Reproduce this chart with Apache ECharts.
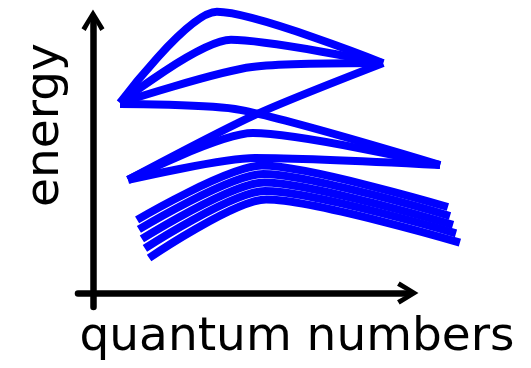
<!DOCTYPE html>
<html>
<head>
<meta charset="utf-8">
<script src="https://cdn.jsdelivr.net/npm/echarts@6/dist/echarts.min.js"></script>
<style>
html,body{margin:0;padding:0;background:#fff;}
#chart{width:531px;height:368px;}
</style>
</head>
<body>
<div id="chart"></div>
<script>
// Energy levels (x = quantum number position, y = energy)
const levelA1 = [[0.90, 6.79], [4.13, 10.04], [9.67, 8.21]];
const levelA2 = [[0.90, 6.79], [4.60, 9.04], [9.67, 8.21]];
const levelA3 = [[0.90, 6.79], [5.30, 8.07], [9.67, 8.21]];
const levelA4 = [[0.90, 6.75], [4.90, 6.54], [11.57, 4.57]];
const levelB1 = [[1.17, 4.04], [5.40, 6.36], [9.67, 8.21]];
const levelB2 = [[1.17, 4.04], [5.33, 5.71], [11.57, 4.57]];
const levelB3 = [[1.17, 4.04], [5.40, 4.82], [11.57, 4.57]];
const levelC1 = [[1.47, 2.61], [5.63, 4.55], [11.83, 3.07]];
const levelC2 = [[1.53, 2.27], [5.67, 4.25], [11.90, 2.75]];
const levelC3 = [[1.63, 1.93], [5.70, 3.95], [12.00, 2.43]];
const levelC4 = [[1.73, 1.59], [5.73, 3.64], [12.10, 2.13]];
const levelC5 = [[1.87, 1.25], [5.77, 3.34], [12.23, 1.80]];
const levels = [levelA1, levelA2, levelA3, levelA4, levelB1, levelB2, levelB3,
                levelC1, levelC2, levelC3, levelC4, levelC5];
const xTitle = 'quantum numbers';
const yTitle = 'energy';

const arrowPath = 'path://M11,0 L22,18 L18,20.5 L11,8 L4,20.5 L0,18 Z M9,3 L13,3 L13,22 L9,22 Z';
const font = '47px "DejaVu Sans"';
const hiddenAxis = {
  axisLine: {show: false}, axisTick: {show: false}, axisLabel: {show: false}, splitLine: {show: false}
};

const chart = echarts.init(document.getElementById('chart'), null, {renderer: 'canvas'});
chart.setOption({
  animation: false,
  backgroundColor: '#ffffff',
  grid: [
    // axes grid (arrows)
    {left: 78, right: 124, top: 21, bottom: 61, containLabel: false},
    // data grid, same scale (30 px / unit in x, 28 px / unit in y), wider
    {left: 78, right: 63, top: 0, bottom: 61, containLabel: false}
  ],
  xAxis: [
    {
      type: 'value', gridIndex: 0, min: -0.5, max: 10.4667,
      axisLine: {show: true, onZero: true, symbol: ['none', arrowPath], symbolSize: [23, 23],
        lineStyle: {color: '#000', width: 6.5}},
      axisTick: {show: false}, axisLabel: {show: false}, splitLine: {show: false}
    },
    Object.assign({type: 'value', gridIndex: 1, min: -0.5, max: 12.5}, hiddenAxis)
  ],
  yAxis: [
    {
      type: 'value', gridIndex: 0, min: -0.5, max: 9.714,
      axisLine: {show: true, onZero: true, symbol: ['none', arrowPath], symbolSize: [23, 23],
        lineStyle: {color: '#000', width: 6.5}},
      axisTick: {show: false}, axisLabel: {show: false}, splitLine: {show: false}
    },
    Object.assign({type: 'value', gridIndex: 1, min: -0.5, max: 10.464}, hiddenAxis)
  ],
  series: levels.map(d => ({
    type: 'line', xAxisIndex: 1, yAxisIndex: 1, data: d, smooth: 0.25, clip: false,
    showSymbol: false, symbol: 'none',
    lineStyle: {color: '#0000ff', width: 8, cap: 'butt', join: 'round'},
    emphasis: {disabled: true}, silent: true
  })),
  graphic: [
    {type: 'text', x: 297, y: 338, silent: true,
     style: {text: xTitle, font: font, fill: '#000', align: 'center', verticalAlign: 'middle',
             textAlign: 'center', textVerticalAlign: 'middle'}},
    {type: 'text', x: 46, y: 125, rotation: Math.PI / 2, silent: true,
     style: {text: yTitle, font: font, fill: '#000', align: 'center', verticalAlign: 'middle',
             textAlign: 'center', textVerticalAlign: 'middle'}}
  ]
});
</script>
</body>
</html>
